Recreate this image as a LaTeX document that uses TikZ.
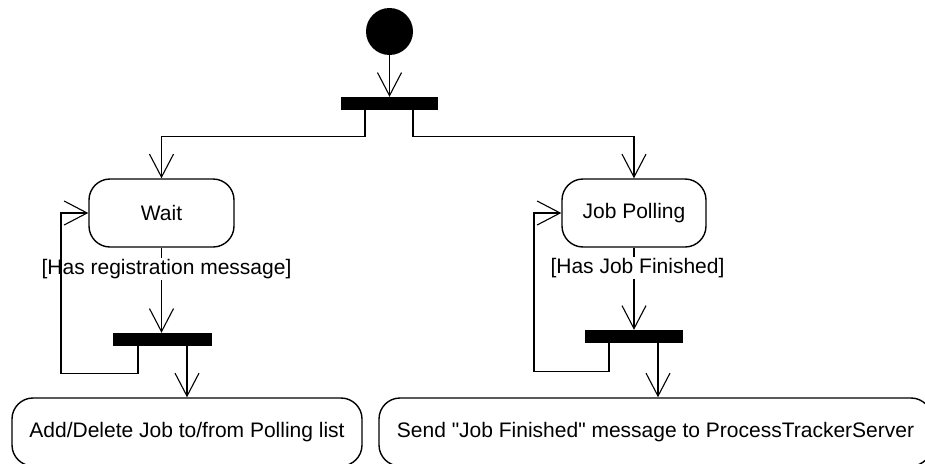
\documentclass[tikz,border=0pt]{standalone}
\usepackage{fontspec}
\setmainfont{Liberation Sans}[Ligatures=TeXOff]
\usetikzlibrary{arrows.meta}
\begin{document}
\begin{tikzpicture}[x=1pt,y=-1pt,
  act/.style={draw, line width=1.4pt, rounded corners=21pt, minimum height=68pt,
    inner sep=0pt, font=\fontsize{21}{25}\selectfont},
  bar/.style={fill=black, draw=none, minimum width=97pt, minimum height=13pt, inner sep=0pt},
  flow/.style={line width=1.1pt, -{Straight Barb[length=23pt,width=24pt]}},
  guard/.style={fill=white, inner sep=1pt, font=\fontsize{21}{25}\selectfont}]
\useasboundingbox (0,0) rectangle (925,463);
\clip (0,0) rectangle (925,463);

% initial node, fork and activities
\node[circle, fill=black, minimum size=47pt, inner sep=0pt] (start) at (389.5,31.5) {};
\node[bar] (fork) at (389.5,103.5) {};
\node[act, minimum width=145pt] (wait) at (161.5,213) {Wait};
\node[act, minimum width=144pt] (poll) at (634,213) {Job Polling};
\node[bar, minimum width=99pt] (join1) at (162.5,339.5) {};
\node[bar, minimum width=98pt] (join2) at (634,336.5) {};
\node[act, minimum width=350pt] (update) at (187,432) {Add/Delete Job to/from Polling list};
\node[act, minimum width=553pt] (notify) at (655.5,432) {Send "Job Finished" message to ProcessTrackerServer};

% control flows
\draw[flow] (start) -- (fork);
\draw[flow] ([xshift=-24.5pt]fork.south) -- ++(0,26) -| (wait.north);
\draw[flow] ([xshift=23.5pt]fork.south) -- ++(0,26) -| (poll.north);
\draw[flow] (wait.south) -- node[guard, pos=0.25, xshift=5pt] {[Has registration message]} (wait.south |- join1.north);
\draw[flow] (poll.south) -- node[guard, pos=0.25, xshift=3.5pt] {[Has Job Finished]} (poll.south |- join2.north);
\draw[flow] ([xshift=-24.5pt]join1.south) -- ++(0,27) -- ++(-77,0) |- (wait.west);
\draw[flow] ([xshift=24.5pt]join1.south) -- ([xshift=24.5pt]join1.south |- update.north);
\draw[flow] ([xshift=-25pt]join2.south) -- ++(0,28) -- ++(-75,0) |- (poll.west);
\draw[flow] ([xshift=24pt]join2.south) -- ([xshift=24pt]join2.south |- notify.north);
\end{tikzpicture}
\end{document}
